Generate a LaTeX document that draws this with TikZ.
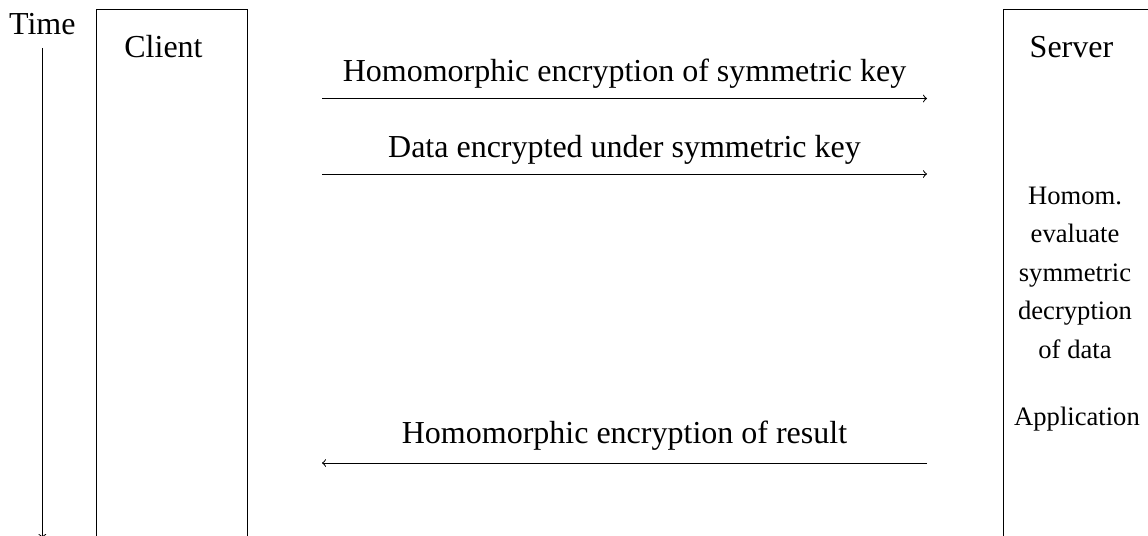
\documentclass[tikz,border=0pt]{standalone}
\usepackage{fontspec}
\setmainfont{Liberation Serif}
\begin{document}
\begin{tikzpicture}[x=0.5pt,y=-0.5pt,line width=0.5pt,
  big/.style={font=\fontsize{16}{19.2}\selectfont,inner sep=0pt,anchor=base},
  small/.style={font=\fontsize{13.3}{19.2}\selectfont,inner sep=0pt,align=center,anchor=base},
  lane/.style={draw,inner sep=0pt,anchor=north west,minimum width=75.5pt,minimum height=280pt},
  msg/.style={->}]
\useasboundingbox (0,0) rectangle (1148,536);
\clip (0,0) rectangle (1148,536);

% time axis
\node[big] (time) at (42.3,34) {Time};
\coordinate (tend) at (42.3,538);
\draw[->] ([yshift=-6.5pt]time.south) -- (tend);

% lanes
\node[lane] (client) at (95.7,8.5) {};
\node[lane,minimum width=90pt] (server) at (1003,8.5) {};
\node[big] (clientlbl) at (163.5,57) {Client};
\node[big] (serverlbl) at (1071.5,57) {Server};

% messages
\coordinate (c1) at (322,98.5);  \coordinate (s1) at (927,98.5);
\coordinate (c2) at (322,174);   \coordinate (s2) at (927,174);
\coordinate (c3) at (322,463);   \coordinate (s3) at (927,463);
\draw[msg] (c1) -- (s1);
\draw[msg] (c2) -- (s2);
\draw[msg] (s3) -- (c3);
\node[big] (m1) at (624.5,81) {Homomorphic encryption of symmetric key};
\node[big] (m2) at (624.5,157) {Data encrypted under symmetric key};
\node[big] (m3) at (624.5,443) {Homomorphic encryption of result};

% server-side computation (base anchor sits on the last line)
\node[small] (eval) at (1075,358) {Homom.\\evaluate\\symmetric\\decryption\\of data};
\node[small] (app) at (1077,425) {Application};
\end{tikzpicture}
\end{document}
